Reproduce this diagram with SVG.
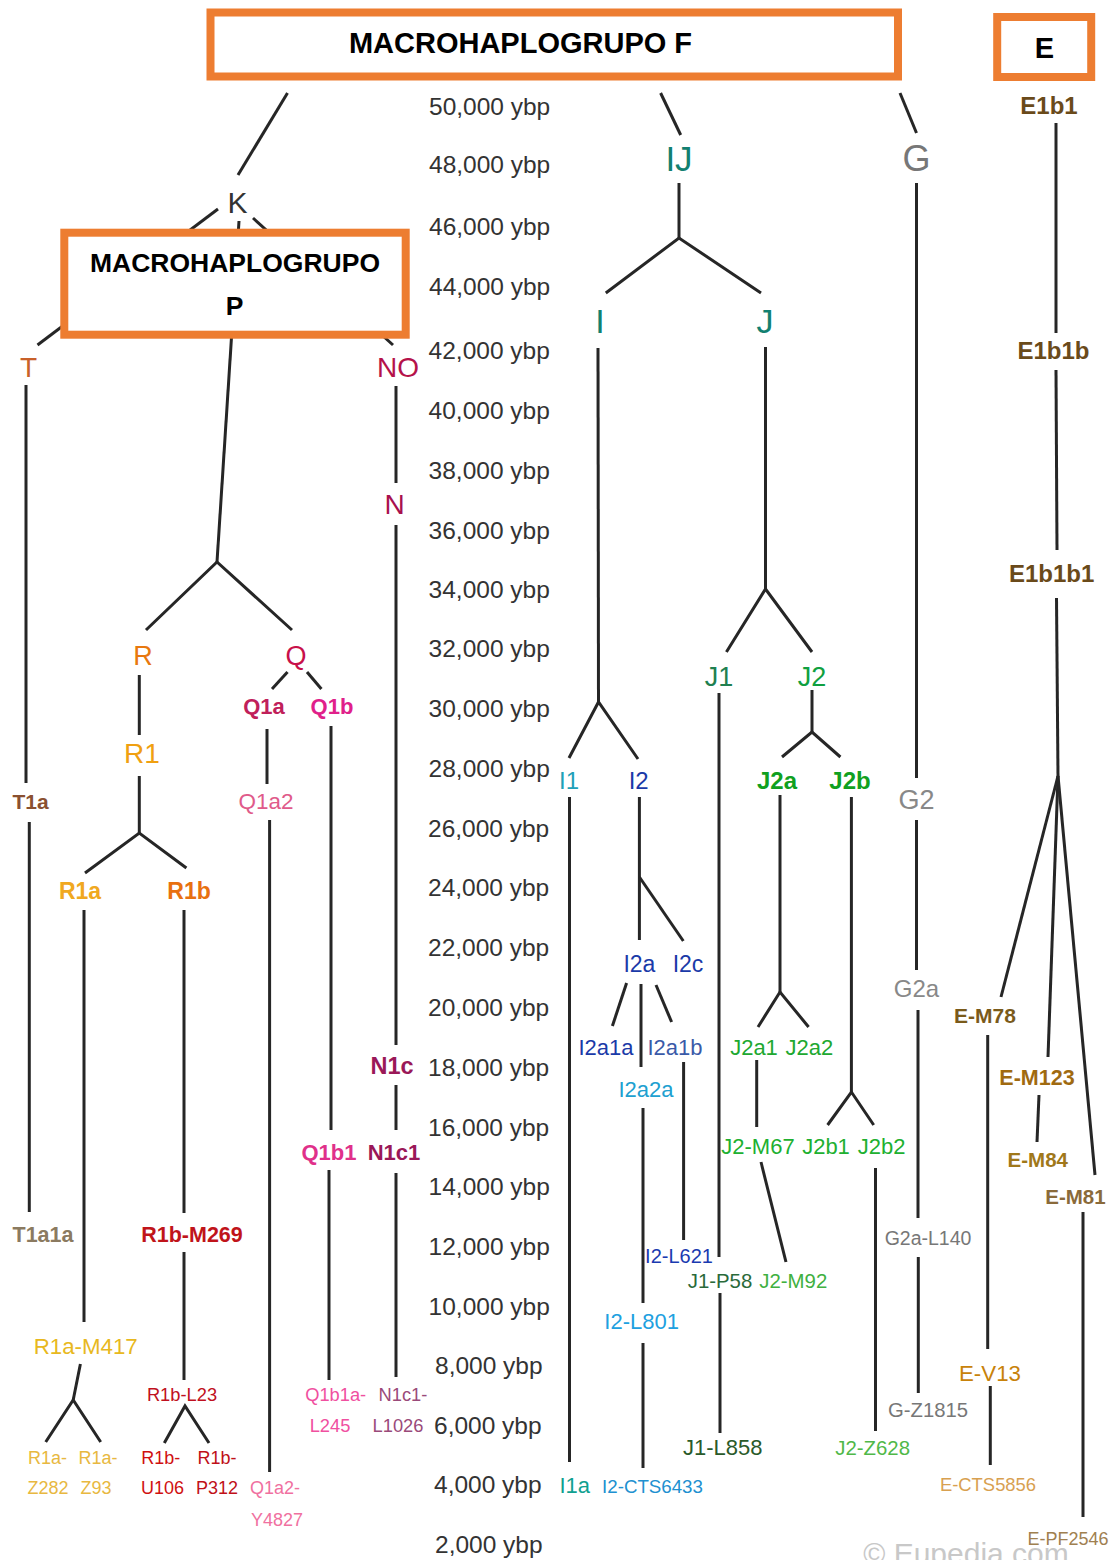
<svg xmlns="http://www.w3.org/2000/svg" width="1113" height="1560" viewBox="0 0 1113 1560">
<style>
text{font-family:"Liberation Sans",Arial,sans-serif}
.lb{text-anchor:middle}
.b{font-weight:bold}
.ax{fill:#333;font-size:24.5px}
.box{fill:#fff;stroke:#ED7D31;stroke-width:8}
.bt{font-weight:bold;fill:#000;text-anchor:middle}
#conn line,#conn polyline{stroke:#262626;stroke-width:3;fill:none}
</style>
<rect width="1113" height="1560" fill="#fff"/>
<g id="conn">
<line x1="287.5" y1="93" x2="238" y2="175"/>
<line x1="218" y1="209" x2="37.5" y2="345"/>
<line x1="239" y1="221" x2="217" y2="562"/>
<line x1="253" y1="218" x2="393" y2="345"/>
<line x1="26" y1="385" x2="26" y2="783"/>
<line x1="29.3" y1="822" x2="29.3" y2="1212"/>
<line x1="396" y1="386" x2="396" y2="483"/>
<line x1="396" y1="525" x2="396" y2="1045"/>
<line x1="396" y1="1085" x2="396" y2="1130"/>
<line x1="396" y1="1173" x2="396" y2="1377"/>
<polyline points="146,630 217,562 292,630"/>
<line x1="139.3" y1="675" x2="139.3" y2="735"/>
<line x1="287.5" y1="672" x2="272" y2="689"/>
<line x1="307" y1="672" x2="321.4" y2="689"/>
<line x1="267" y1="729" x2="267" y2="784"/>
<line x1="269.6" y1="820" x2="269.6" y2="1472"/>
<line x1="331" y1="726" x2="331" y2="1130"/>
<line x1="329" y1="1170" x2="329" y2="1380"/>
<line x1="139.3" y1="776" x2="139.3" y2="833"/>
<polyline points="85,873 139.3,833 186.4,868"/>
<line x1="84" y1="910" x2="84" y2="1322"/>
<line x1="184" y1="910" x2="184" y2="1213"/>
<line x1="184" y1="1252" x2="184" y2="1380"/>
<polyline points="80.4,1364 73.2,1400"/>
<polyline points="45.7,1442 73.2,1400 100.7,1442"/>
<polyline points="164.3,1443 185,1406 209,1443"/>
<line x1="660.6" y1="93" x2="680.7" y2="135"/>
<line x1="900" y1="93" x2="916.5" y2="133"/>
<line x1="679" y1="183" x2="679" y2="238"/>
<polyline points="605.8,293 679,238 761,293"/>
<line x1="598" y1="348" x2="598.5" y2="702"/>
<polyline points="569,758 598.5,702 638,759"/>
<line x1="765.5" y1="347" x2="765.5" y2="589"/>
<polyline points="726.4,652 765.5,589 812,652"/>
<line x1="812" y1="690" x2="812" y2="732"/>
<polyline points="782,757 812,732 840.4,757"/>
<line x1="719" y1="693" x2="719" y2="1257"/>
<line x1="720" y1="1293" x2="720" y2="1433"/>
<line x1="569.5" y1="797" x2="569.5" y2="1462"/>
<line x1="639.4" y1="797" x2="639.4" y2="940"/>
<line x1="639.4" y1="877" x2="683.3" y2="941"/>
<line x1="626.6" y1="983" x2="612.4" y2="1026"/>
<line x1="641" y1="984" x2="641" y2="1067"/>
<line x1="656" y1="985" x2="671.6" y2="1022"/>
<line x1="643" y1="1108" x2="643" y2="1303"/>
<line x1="643" y1="1343" x2="643" y2="1468"/>
<line x1="683.6" y1="1062" x2="683.6" y2="1240"/>
<line x1="780" y1="795" x2="780" y2="992"/>
<polyline points="758,1027 780,992 808.6,1027"/>
<line x1="756.7" y1="1060" x2="756.7" y2="1127"/>
<line x1="761" y1="1162" x2="786" y2="1262"/>
<line x1="851.4" y1="797" x2="851.4" y2="1092"/>
<polyline points="827.6,1125 851.4,1092 873.7,1125"/>
<line x1="875.5" y1="1168" x2="875.5" y2="1431"/>
<line x1="916.5" y1="183" x2="916.5" y2="778"/>
<line x1="916.5" y1="820" x2="916.5" y2="970"/>
<line x1="918" y1="1010" x2="918" y2="1218"/>
<line x1="918.3" y1="1257" x2="918.3" y2="1393"/>
<line x1="1056" y1="123" x2="1056" y2="333"/>
<line x1="1056" y1="370" x2="1057" y2="550"/>
<line x1="1056.5" y1="598" x2="1058" y2="776"/>
<line x1="1058" y1="776" x2="1001" y2="997"/>
<line x1="1058" y1="776" x2="1048" y2="1057"/>
<line x1="1058" y1="776" x2="1095" y2="1175"/>
<line x1="987.7" y1="1035" x2="987.7" y2="1349"/>
<line x1="990.3" y1="1386" x2="990.3" y2="1465"/>
<line x1="1039" y1="1095" x2="1037" y2="1142"/>
<line x1="1083" y1="1212" x2="1083" y2="1517"/>
</g>
<g id="axis" class="ax">
<text x="429" y="115">50,000 ybp</text>
<text x="429" y="173">48,000 ybp</text>
<text x="429" y="235">46,000 ybp</text>
<text x="429" y="295">44,000 ybp</text>
<text x="428.6" y="359">42,000 ybp</text>
<text x="428.6" y="419">40,000 ybp</text>
<text x="428.6" y="479">38,000 ybp</text>
<text x="428.6" y="539">36,000 ybp</text>
<text x="428.6" y="598">34,000 ybp</text>
<text x="428.6" y="657">32,000 ybp</text>
<text x="428.6" y="717">30,000 ybp</text>
<text x="428.6" y="777">28,000 ybp</text>
<text x="428" y="837">26,000 ybp</text>
<text x="428" y="896">24,000 ybp</text>
<text x="428" y="956">22,000 ybp</text>
<text x="428" y="1016">20,000 ybp</text>
<text x="428" y="1076">18,000 ybp</text>
<text x="428" y="1136">16,000 ybp</text>
<text x="428.6" y="1195">14,000 ybp</text>
<text x="428.6" y="1255">12,000 ybp</text>
<text x="428.6" y="1315">10,000 ybp</text>
<text x="435" y="1374">8,000 ybp</text>
<text x="434" y="1434">6,000 ybp</text>
<text x="434" y="1493">4,000 ybp</text>
<text x="435" y="1553">2,000 ybp</text>
</g>
<g id="boxF"><rect class="box" x="210.5" y="12.5" width="687.5" height="64"/><text class="bt" x="520.5" y="53" font-size="29">MACROHAPLOGRUPO F</text></g>
<g id="boxE"><rect class="box" x="997.2" y="17" width="94" height="60" stroke-width="7.5"/><text class="bt" x="1044.4" y="58" font-size="29">E</text></g>
<g id="boxP"><rect class="box" x="64.3" y="232.7" width="341.4" height="102" stroke-width="7.5"/><text class="bt" x="235" y="272" font-size="26.5">MACROHAPLOGRUPO</text><text class="bt" x="234.6" y="315" font-size="26.5">P</text></g>
<g class="lb">
<g id="K"><text x="237.5" y="213" font-size="30" fill="#333">K</text></g>
<g id="T"><text x="28.6" y="377" font-size="28" fill="#c8602a">T</text></g>
<g id="NO"><text x="398" y="377" font-size="28" fill="#b5124a">NO</text></g>
<g id="N"><text x="394.6" y="514" font-size="28" fill="#a8104e">N</text></g>
<g id="R"><text x="143" y="665" font-size="27" fill="#e8780e">R</text></g>
<g id="Q"><text x="296" y="665" font-size="27" fill="#c8104a">Q</text></g>
<g id="Q1a"><text class="b" x="264" y="714" font-size="22" fill="#c0205a">Q1a</text></g>
<g id="Q1b"><text class="b" x="332" y="714" font-size="22" fill="#e0208a">Q1b</text></g>
<g id="R1"><text x="142" y="763" font-size="28" fill="#f0a010">R1</text></g>
<g id="T1a"><text class="b" x="30.5" y="809" font-size="21" fill="#8a5030">T1a</text></g>
<g id="Q1a2"><text x="266" y="809" font-size="22.5" fill="#e05a8a">Q1a2</text></g>
<g id="R1a"><text class="b" x="80" y="899" font-size="23" fill="#f0a820">R1a</text></g>
<g id="R1b"><text class="b" x="189" y="899" font-size="23" fill="#e87010">R1b</text></g>
<g id="N1c"><text class="b" x="392" y="1074" font-size="23.5" fill="#9a1858">N1c</text></g>
<g id="Q1b1"><text class="b" x="329" y="1160" font-size="22" fill="#e0308a">Q1b1</text></g>
<g id="N1c1"><text class="b" x="394" y="1160" font-size="22" fill="#9a1858">N1c1</text></g>
<g id="T1a1a"><text class="b" x="43" y="1241.5" font-size="21.5" fill="#8b7a60">T1a1a</text></g>
<g id="R1b-M269"><text class="b" x="192" y="1241.7" font-size="21.5" fill="#c0141a">R1b-M269</text></g>
<g id="R1a-M417"><text x="85.7" y="1354" font-size="22.3" fill="#e8b820">R1a-M417</text></g>
<g id="R1b-L23"><text x="182" y="1401" font-size="18.3" fill="#c01020">R1b-L23</text></g>
<g id="Q1b1a-L245"><text x="335.7" y="1401" font-size="18.3" fill="#f050a0">Q1b1a-</text><text x="330" y="1432" font-size="18.3" fill="#f050a0">L245</text></g>
<g id="N1c1-L1026"><text x="403" y="1401" font-size="18.3" fill="#9a4a7a">N1c1-</text><text x="398" y="1432" font-size="18.3" fill="#9a4a7a">L1026</text></g>
<g id="R1a-Z282"><text x="47.5" y="1464" font-size="18" fill="#e8b840">R1a-</text><text x="48" y="1494" font-size="18" fill="#e8b840">Z282</text></g>
<g id="R1a-Z93"><text x="98" y="1464" font-size="18" fill="#e8b840">R1a-</text><text x="96" y="1494" font-size="18" fill="#e8b840">Z93</text></g>
<g id="R1b-U106"><text x="160.7" y="1464" font-size="18" fill="#d01010">R1b-</text><text x="162.5" y="1494" font-size="18" fill="#d01010">U106</text></g>
<g id="R1b-P312"><text x="217" y="1464" font-size="18" fill="#c01018">R1b-</text><text x="217" y="1494" font-size="18" fill="#c01018">P312</text></g>
<g id="Q1a2-Y4827"><text x="275" y="1494" font-size="18" fill="#f070a0">Q1a2-</text><text x="277" y="1526" font-size="18" fill="#f070a0">Y4827</text></g>
<g id="IJ"><text x="679" y="170.7" font-size="35" fill="#128070">IJ</text></g>
<g id="G"><text x="916.5" y="170.7" font-size="36" fill="#777">G</text></g>
<g id="I"><text x="600" y="333" font-size="34" fill="#128070">I</text></g>
<g id="J"><text x="765" y="333" font-size="34" fill="#128070">J</text></g>
<g id="E1b1"><text class="b" x="1049" y="114" font-size="24" fill="#6a4a1a">E1b1</text></g>
<g id="E1b1b"><text class="b" x="1053.5" y="359" font-size="24" fill="#6a4a1a">E1b1b</text></g>
<g id="E1b1b1"><text class="b" x="1051.7" y="581.7" font-size="24" fill="#6a4a1a">E1b1b1</text></g>
<g id="J1"><text x="719" y="686" font-size="27" fill="#208050">J1</text></g>
<g id="J2"><text x="812" y="686" font-size="27" fill="#10a040">J2</text></g>
<g id="I1"><text x="569" y="789" font-size="24" fill="#20a0b8">I1</text></g>
<g id="I2"><text x="638.7" y="789" font-size="24" fill="#1a3aa8">I2</text></g>
<g id="J2a"><text class="b" x="777" y="789" font-size="24" fill="#10a020">J2a</text></g>
<g id="J2b"><text class="b" x="850" y="789" font-size="24" fill="#10a020">J2b</text></g>
<g id="G2"><text x="916.5" y="809" font-size="27" fill="#888">G2</text></g>
<g id="I2a"><text x="639.4" y="971.7" font-size="23" fill="#1a3aa8">I2a</text></g>
<g id="I2c"><text x="688" y="971.7" font-size="23" fill="#1a3aa8">I2c</text></g>
<g id="G2a"><text x="916.5" y="996.7" font-size="24" fill="#888">G2a</text></g>
<g id="E-M78"><text class="b" x="985" y="1022.7" font-size="21" fill="#7a5a1a">E-M78</text></g>
<g id="I2a1a"><text x="606" y="1055" font-size="22" fill="#1a3aa8">I2a1a</text></g>
<g id="I2a1b"><text x="675" y="1055" font-size="22" fill="#3a5aa8">I2a1b</text></g>
<g id="J2a1"><text x="754" y="1055" font-size="22" fill="#20a830">J2a1</text></g>
<g id="J2a2"><text x="809.4" y="1055" font-size="22" fill="#20a830">J2a2</text></g>
<g id="E-M123"><text class="b" x="1037" y="1085" font-size="21.5" fill="#a06a10">E-M123</text></g>
<g id="I2a2a"><text x="646" y="1097" font-size="22" fill="#20a0d0">I2a2a</text></g>
<g id="J2-M67"><text x="758" y="1154" font-size="22" fill="#20b030">J2-M67</text></g>
<g id="J2b1"><text x="826" y="1154" font-size="22" fill="#20b030">J2b1</text></g>
<g id="J2b2"><text x="881.7" y="1154" font-size="22" fill="#20b030">J2b2</text></g>
<g id="E-M84"><text class="b" x="1037.8" y="1166.7" font-size="20.5" fill="#a0781a">E-M84</text></g>
<g id="E-M81"><text class="b" x="1075.4" y="1204" font-size="20.5" fill="#8a6a3a">E-M81</text></g>
<g id="G2a-L140"><text x="928" y="1245" font-size="19.5" fill="#777">G2a-L140</text></g>
<g id="I2-L621"><text x="679" y="1262.7" font-size="20" fill="#1a3ab0">I2-L621</text></g>
<g id="J1-P58"><text x="720" y="1287.7" font-size="20.4" fill="#2a6a3a">J1-P58</text></g>
<g id="J2-M92"><text x="793.3" y="1287.7" font-size="20.4" fill="#40b040">J2-M92</text></g>
<g id="I2-L801"><text x="641.6" y="1329" font-size="22" fill="#20a0e0">I2-L801</text></g>
<g id="E-V13"><text x="990" y="1380.7" font-size="22.3" fill="#c8820a">E-V13</text></g>
<g id="G-Z1815"><text x="928" y="1417" font-size="20.3" fill="#777">G-Z1815</text></g>
<g id="J1-L858"><text x="722.7" y="1455" font-size="22" fill="#2a5a2a">J1-L858</text></g>
<g id="J2-Z628"><text x="872.6" y="1455" font-size="20.4" fill="#50b848">J2-Z628</text></g>
<g id="I1a"><text x="574.7" y="1492.7" font-size="22" fill="#10a090">I1a</text></g>
<g id="I2-CTS6433"><text x="652.5" y="1492.7" font-size="18.7" fill="#2090d0">I2-CTS6433</text></g>
<g id="E-CTS5856"><text x="988" y="1490.7" font-size="18.4" fill="#d8a050">E-CTS5856</text></g>
<g id="E-PF2546"><text x="1068" y="1545" font-size="18" fill="#a08050">E-PF2546</text></g>
</g>
<text x="966" y="1564" font-size="30" fill="#c8c8c8" text-anchor="middle">© Eupedia.com</text>
</svg>
